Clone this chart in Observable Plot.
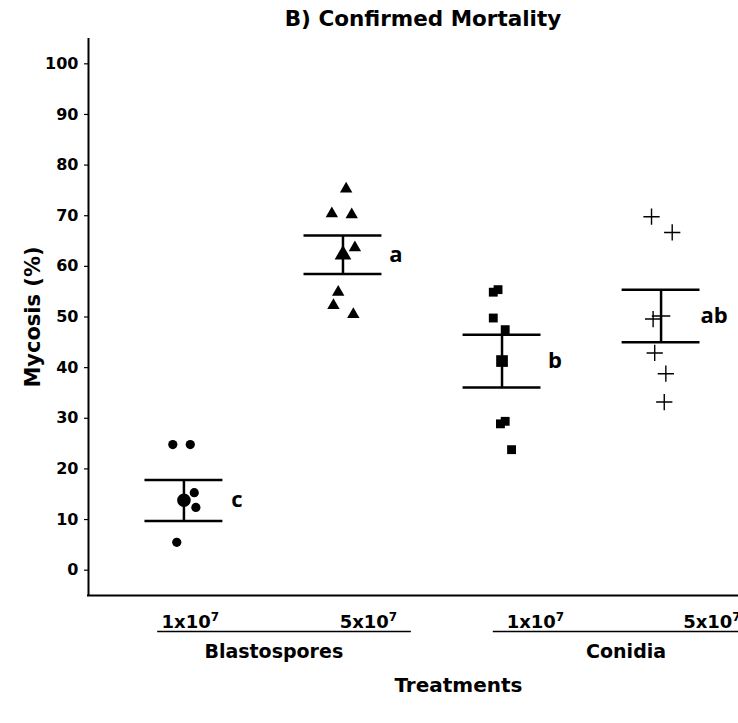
<!DOCTYPE html>
<html><head><meta charset="utf-8">
<script src="https://cdn.jsdelivr.net/npm/d3@7"></script>
<script src="https://cdn.jsdelivr.net/npm/@observablehq/plot@0.6"></script>
<style>
html,body{margin:0;padding:0;background:#fff;width:738px;height:723px;overflow:hidden}
#title{height:38px;line-height:41px;padding-top:6px;font:bold 21.5px "DejaVu Sans",sans-serif;padding-left:108px;text-align:center;box-sizing:border-box;width:738px;white-space:nowrap;color:#000;overflow:visible}
#title span{display:inline-block;line-height:26px;vertical-align:top}
#chart svg{display:block}
</style></head><body>
<div id="title"><span>B) Confirmed Mortality</span></div>
<div id="chart"></div>
<script>
// ---- data ----
const treatments = [1, 2, 3, 4];
const doseBase = ["1x10", "5x10", "1x10", "5x10"];
const doseExponent = ["7", "7", "7", "7"];
const groupLabels = ["Blastospores", "Conidia"];
const letters = ["c", "a", "b", "ab"];
const means = [13.8, 62.3, 41.3, 50.2];
const seLow = [9.7, 58.5, 36.1, 45.0];
const seHigh = [17.8, 66.1, 46.5, 55.4];
const yTicks = [0, 10, 20, 30, 40, 50, 60, 70, 80, 90, 100];

const blasto1e7 = [24.8, 24.8, 15.3, 12.4, 5.5, 14.2];
const blasto5e7 = [75.3, 70.4, 70.2, 63.7, 54.9, 52.3, 50.5];
const conidia1e7 = [54.9, 55.4, 49.8, 47.5, 28.9, 29.4, 23.8];
const conidia5e7 = [69.8, 66.7, 49.6, 42.9, 38.8, 33.2];
// horizontal jitter (in category units)
const blasto1e7Jitter = [-0.07, 0.04, 0.065, 0.075, -0.045, 0.0];
const blasto5e7Jitter = [0.02, -0.07, 0.055, 0.075, -0.03, -0.06, 0.065];
const conidia1e7Jitter = [-0.055, -0.025, -0.055, 0.02, -0.01, 0.02, 0.06];
const conidia5e7Jitter = [-0.06, 0.07, -0.05, -0.04, 0.03, 0.02];

// ---- tables built from the arrays ----
const series = [blasto1e7, blasto5e7, conidia1e7, conidia5e7];
const jitters = [blasto1e7Jitter, blasto5e7Jitter, conidia1e7Jitter, conidia5e7Jitter];
const points = series.flatMap((vals, g) => vals.map((v, i) => ({g, x: treatments[g] + jitters[g][i], y: v})));
const summary = treatments.map((t, g) => ({g, x: t, mean: means[g], lo: seLow[g], hi: seHigh[g], letter: letters[g], dose: doseBase[g] + doseExponent[g]}));
const groups = groupLabels.map((label, k) => ({label, first: treatments[2 * k], last: treatments[2 * k + 1]}));

// ---- style constants ----
const shapes = ["circle", "triangle", "square", "plus"];
const dotR = [4.6, 4.6, 5.0, 5.3];
const meanR = [6.8, 6.2, 6.6, 6.0];
const capHalf = 0.245;
const doseNudge = [0.04, 0.16, 0.21, 0.32];
const groupNudge = [0.065, 0.28];
const underlineLeft = [0.165, 0.055];
const underlineRight = [0.43, 0.6];
const bold = "'DejaVu Sans', sans-serif";

const filled = points.filter(d => d.g < 3);
const crosses = points.filter(d => d.g === 3);

const chart = Plot.plot({
  width: 738,
  height: 685,
  marginTop: 0,
  marginLeft: 88,
  marginRight: 0,
  marginBottom: 128,
  style: {fontFamily: bold, fontWeight: "bold", fontSize: "16px", color: "#000", background: "#fff", overflow: "hidden"},
  x: {domain: [0.4, 4.6], range: [88, 756], axis: null},
  y: {domain: [-5, 105], axis: null},
  r: {type: "identity"},
  symbol: {domain: [0, 1, 2, 3], range: shapes},
  marks: [
    Plot.axisY(yTicks, {tickSize: 4, tickPadding: 6, fontSize: 16, fontWeight: "bold", label: null, strokeWidth: 1.2}),
    Plot.ruleX([0.4], {stroke: "#000", strokeWidth: 2, strokeLinecap: "square"}),
    Plot.ruleY([-5], {stroke: "#000", strokeWidth: 2, strokeLinecap: "square"}),
    // error bars
    Plot.ruleX(summary, {x: "x", y1: "lo", y2: "hi", stroke: "#000", strokeWidth: 2.5}),
    Plot.ruleY(summary, {y: "lo", x1: d => d.x - capHalf, x2: d => d.x + capHalf, stroke: "#000", strokeWidth: 2.5}),
    Plot.ruleY(summary, {y: "hi", x1: d => d.x - capHalf, x2: d => d.x + capHalf, stroke: "#000", strokeWidth: 2.5}),
    // points
    Plot.dot(filled, {x: "x", y: "y", symbol: "g", r: d => dotR[d.g], fill: "#000", stroke: "none"}),
    Plot.dot(crosses, {x: "x", y: "y", symbol: "g", r: d => dotR[d.g], stroke: "#000", strokeWidth: 1.4, fill: "none"}),
    Plot.dot(summary.filter(d => d.g < 3), {x: "x", y: "mean", symbol: "g", r: d => meanR[d.g], fill: "#000", stroke: "none"}),
    Plot.dot(summary.filter(d => d.g === 3), {x: "x", y: "mean", symbol: "g", r: d => meanR[d.g], stroke: "#000", strokeWidth: 1.4, fill: "none"}),
    // significance letters
    Plot.text(summary, {x: "x", y: "mean", text: "letter", dx: 53, textAnchor: "middle", lineAnchor: "middle", fontFamily: "'Open Sans', sans-serif", fontWeight: "bold", fontSize: 22, fill: "#000"}),
    // y label
    Plot.text(["Mycosis (%)"], {frameAnchor: "left", rotate: -90, dx: -55, textAnchor: "middle", lineAnchor: "middle", fontSize: 21, fill: "#000"}),
    // dose labels (exponent turned into a superscript below)
    Plot.text(summary, {x: d => d.x + doseNudge[d.g], text: "dose", frameAnchor: "bottom", lineAnchor: "bottom", dy: 32, textAnchor: "middle", fontSize: 18, fill: "#000", className: "dose"}),
    // group underlines
    Plot.ruleY(groups.map(() => -5), {x1: (d, i) => groups[i].first - underlineLeft[i], x2: (d, i) => groups[i].last + underlineRight[i], dy: 36, stroke: "#000", strokeWidth: 1.5}),
    // group labels
    Plot.text(groups, {x: (d, i) => (d.first + d.last) / 2 + groupNudge[i], text: "label", frameAnchor: "bottom", lineAnchor: "bottom", dy: 62, textAnchor: "middle", fontSize: 19, fill: "#000"}),
    // x title
    Plot.text(["Treatments"], {x: () => (treatments[0] + treatments[3]) / 2 + 0.226, text: d => d, frameAnchor: "bottom", lineAnchor: "bottom", dy: 96, textAnchor: "middle", fontSize: 20, fill: "#000"})
  ]
});
// render the exponent as a real superscript
chart.querySelectorAll("g.dose text").forEach((t, i) => {
  const base = doseBase[i], exp = doseExponent[i];
  t.textContent = "";
  const a = document.createElementNS("http://www.w3.org/2000/svg", "tspan");
  a.textContent = base;
  const b = document.createElementNS("http://www.w3.org/2000/svg", "tspan");
  b.textContent = exp;
  b.setAttribute("font-size", "12");
  b.setAttribute("dy", "-7");
  t.appendChild(a); t.appendChild(b);
});
document.getElementById("chart").appendChild(chart);
</script>
</body></html>
